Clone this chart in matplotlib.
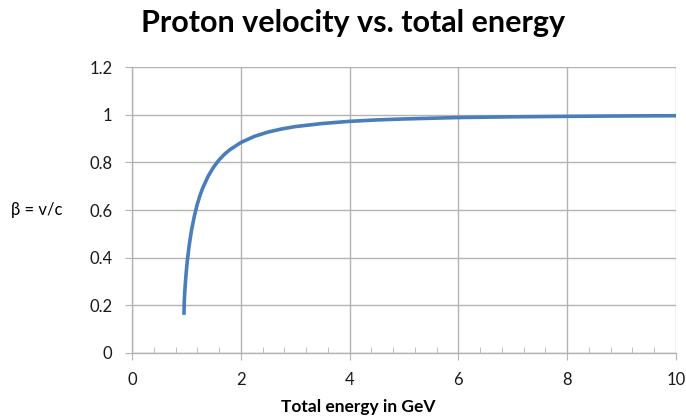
import matplotlib.pyplot as plt
from matplotlib.ticker import MultipleLocator

# proton beta, total energy in GeV
energy = [0.955, 0.96, 0.97, 0.98, 1.0, 1.02, 1.05, 1.08, 1.1, 1.15, 1.2, 1.25, 1.3,
          1.4, 1.5, 1.6, 1.7, 1.8, 2.0, 2.25, 2.5, 2.75, 3.0, 3.5, 4.0, 4.5,
          5.0, 6.0, 7.0, 8.0, 9.0, 10.0]
beta = [0.16, 0.213, 0.255, 0.290, 0.347, 0.393, 0.449, 0.495, 0.522, 0.578, 0.624,
        0.661, 0.692, 0.742, 0.780, 0.810, 0.834, 0.853, 0.883, 0.909, 0.927,
        0.940, 0.950, 0.963, 0.972, 0.978, 0.982, 0.988, 0.991, 0.993, 0.9946, 0.9956]

x_ticks = [0, 2, 4, 6, 8, 10]
y_ticks = [0, 0.2, 0.4, 0.6, 0.8, 1, 1.2]
y_labels = ['0', '0.2', '0.4', '0.6', '0.8', '1', '1.2']

plt.rcParams['font.family'] = ['Lato', 'DejaVu Sans']
grey = '#b3b3b3'

fig = plt.figure(figsize=(6.86, 4.17), dpi=100)
ax = fig.add_axes([0.1924, 0.1535, 0.7930, 0.6858])

ax.plot(energy, beta, color='#4a7ebb', lw=2.6, solid_capstyle='butt', zorder=3)

ax.set_xlim(0, 10)
ax.set_ylim(0, 1.2)
ax.set_xticks(x_ticks)
ax.set_yticks(y_ticks)
ax.set_yticklabels(y_labels)
ax.xaxis.set_minor_locator(MultipleLocator(0.4))

ax.grid(True, which='major', color=grey, lw=1)
ax.set_axisbelow(True)
for side in ['top', 'right']:
    ax.spines[side].set_visible(False)
for side in ['left', 'bottom']:
    ax.spines[side].set_color(grey)
    ax.spines[side].set_linewidth(1)

ax.tick_params(axis='x', which='major', direction='out', length=5, color=grey,
               labelsize=12, pad=9, labelcolor='#1a1a1a')
ax.tick_params(axis='x', which='minor', direction='in', length=4, color=grey)
ax.tick_params(axis='y', which='major', direction='out', length=5, color=grey,
               labelsize=12, pad=9, labelcolor='#1a1a1a')

fig.text(0.515, 0.945, 'Proton velocity vs. total energy', ha='center', va='center',
         fontsize=22, fontweight='bold')
fig.text(0.053, 0.497, 'β = v/c', ha='center', va='center', fontsize=12)
fig.text(0.522, 0.025, 'Total energy in GeV', ha='center', va='center',
         fontsize=12.5, fontweight='bold')

fig.savefig('out.png', dpi=100)
